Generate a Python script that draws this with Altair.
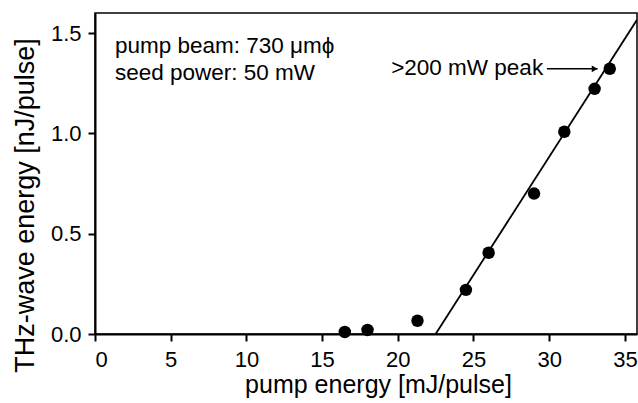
import altair as alt
import pandas as pd

# Measured THz output vs. pump energy
pump_energy = [16.5, 18.0, 21.3, 24.5, 26.0, 29.0, 31.0, 33.0, 34.0]
thz_energy = [0.01, 0.02, 0.066, 0.22, 0.405, 0.70, 1.008, 1.222, 1.322]

# Linear fit above threshold
fit_x = [22.5, 35.8]
fit_y = [0.0, 1.566]

# Annotation text and anchors (data units)
info_lines = ["pump beam: 730 \u03bcm\u03d5", "seed power: 50 mW"]
info_x = [1.32, 1.32]
info_y = [1.438, 1.300]
peak_label = ">200 mW peak"
peak_label_x = 29.6
peak_label_y = 1.327
arrow_x = [29.85, 33.2]
arrow_y = [1.322, 1.322]

FONT = "Liberation Sans"

pts = pd.DataFrame({"x": pump_energy, "y": thz_energy})
fit = pd.DataFrame({"x": fit_x, "y": fit_y})
info = pd.DataFrame({"x": info_x, "y": info_y, "t": info_lines})
peak = pd.DataFrame({"x": [peak_label_x], "y": [peak_label_y], "t": [peak_label]})
arrow = pd.DataFrame({"x": [arrow_x[0]], "x2": [arrow_x[1]], "y": [arrow_y[0]]})
head = pd.DataFrame({"x": [arrow_x[1]], "y": [arrow_y[1]]})

xscale = alt.Scale(domain=[0, 35.8], nice=False, zero=False)
yscale = alt.Scale(domain=[0, 1.6], nice=False, zero=False)

xaxis = alt.Axis(
    title="pump energy [mJ/pulse]",
    values=[0, 5, 10, 15, 20, 25, 30, 35],
    format="d",
    grid=False,
    domainColor="black", domainWidth=2,
    tickColor="black", tickWidth=2, tickSize=7,
    labelFont=FONT, labelFontSize=22, labelColor="black", labelPadding=8,
    titleFont=FONT, titleFontSize=25, titleFontWeight="normal", titleColor="black",
    titleX=283, titleY=58, titleBaseline="alphabetic",
)
yaxis = alt.Axis(
    title="THz-wave energy [nJ/pulse]",
    values=[0, 0.5, 1.0, 1.5],
    format=".1f",
    grid=False,
    domainColor="black", domainWidth=2,
    tickColor="black", tickWidth=2, tickSize=7,
    labelFont=FONT, labelFontSize=22, labelColor="black", labelPadding=7,
    titleFont=FONT, titleFontSize=27, titleFontWeight="normal", titleColor="black",
    titleX=-70, titleY=192, titleAngle=-90, titleBaseline="middle", titleAlign="center",
)

line = alt.Chart(fit).mark_line(color="black", strokeWidth=1.8, clip=True).encode(
    x=alt.X("x:Q", scale=xscale, axis=xaxis),
    y=alt.Y("y:Q", scale=yscale, axis=yaxis),
)

dots = alt.Chart(pts).mark_circle(color="black", opacity=1, size=155).encode(
    x="x:Q", y="y:Q"
)

info_text = alt.Chart(info).mark_text(
    align="left", baseline="middle", font=FONT, fontSize=22.5, color="black"
).encode(x="x:Q", y="y:Q", text="t:N")

peak_text = alt.Chart(peak).mark_text(
    align="right", baseline="middle", font=FONT, fontSize=22.5, color="black"
).encode(x="x:Q", y="y:Q", text="t:N")

arrow_line = alt.Chart(arrow).mark_rule(color="black", strokeWidth=1.5).encode(
    x="x:Q", x2="x2:Q", y="y:Q"
)

arrow_head = alt.Chart(head).mark_point(
    shape="triangle-right", filled=True, color="black", opacity=1, size=45, xOffset=-3
).encode(x="x:Q", y="y:Q")

chart = (
    alt.layer(line, dots, info_text, peak_text, arrow_line, arrow_head)
    .properties(
        width=542,
        height=321,
        autosize=alt.AutoSizeParams(type="none"),
        padding={"left": 95, "top": 13, "right": 1, "bottom": 69},
        background="white",
    )
    .configure_view(stroke="black", strokeWidth=1.5)
)

chart.save("out.html", embed_options={"renderer": "svg", "actions": False})
